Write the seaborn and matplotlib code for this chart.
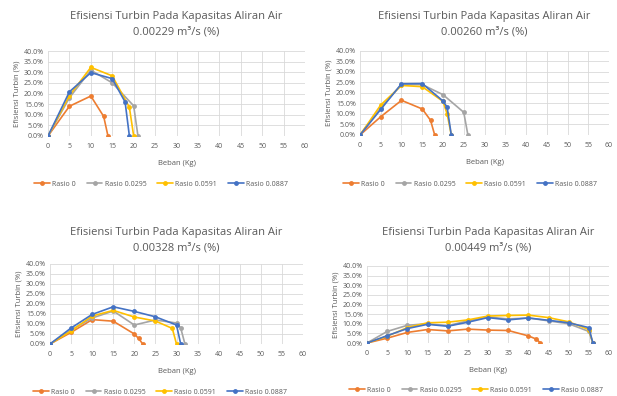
import numpy as np
import pandas as pd
import matplotlib
matplotlib.use('Agg')
import matplotlib.pyplot as plt
import seaborn as sns
from matplotlib.ticker import FuncFormatter

sns.set_style('white')
plt.rcParams['font.family'] = ['Open Sans', 'DejaVu Sans']

series_names = ['Rasio 0', 'Rasio 0.0295', 'Rasio 0.0591', 'Rasio 0.0887']
colors = ['#ED7D31', '#A5A5A5', '#FFC000', '#4472C4']
titles = ['0.00229', '0.00260', '0.00328', '0.00449']

# panel 1 - 0.00229 m3/s
p1_r0_x = [0, 5, 10, 13, 14]
p1_r0_y = [0, 14.0, 18.8, 9.2, 0]
p1_r1_x = [0, 5, 10, 15, 20, 21]
p1_r1_y = [0, 18.0, 31.0, 25.0, 14.2, 0]
p1_r2_x = [0, 5, 10, 15, 19, 20]
p1_r2_y = [0, 19.0, 32.3, 28.3, 13.5, 0]
p1_r3_x = [0, 5, 10, 15, 18, 19]
p1_r3_y = [0, 20.8, 29.8, 27.0, 16.0, 0]

# panel 2 - 0.00260 m3/s
p2_r0_x = [0, 5, 10, 15, 17, 18]
p2_r0_y = [0, 8.7, 16.5, 12.4, 7.0, 0]
p2_r1_x = [0, 5, 10, 15, 20, 25, 26]
p2_r1_y = [0, 13.0, 24.0, 24.0, 19.2, 10.8, 0]
p2_r2_x = [0, 5, 10, 15, 20, 21, 22]
p2_r2_y = [0, 14.3, 23.6, 23.0, 16.0, 10.0, 0]
p2_r3_x = [0, 5, 10, 15, 20, 21, 22]
p2_r3_y = [0, 12.2, 24.4, 24.5, 16.2, 13.2, 0]

# panel 3 - 0.00328 m3/s
p3_r0_x = [0, 5, 10, 15, 20, 21, 22]
p3_r0_y = [0, 5.8, 12.2, 11.4, 5.0, 2.8, 0]
p3_r1_x = [0, 5, 10, 15, 20, 25, 30, 31, 32]
p3_r1_y = [0, 7.0, 13.0, 16.5, 9.5, 12.0, 10.5, 8.0, 0]
p3_r2_x = [0, 5, 10, 15, 20, 25, 29, 30]
p3_r2_y = [0, 6.5, 14.0, 16.8, 13.5, 11.5, 7.8, 0]
p3_r3_x = [0, 5, 10, 15, 20, 25, 30, 31]
p3_r3_y = [0, 8.0, 14.8, 18.6, 16.3, 13.6, 9.5, 0]

# panel 4 - 0.00449 m3/s
p4_r0_x = [0, 5, 10, 15, 20, 25, 30, 35, 40, 42, 43]
p4_r0_y = [0, 2.5, 5.5, 7.0, 6.3, 7.2, 6.7, 6.5, 3.7, 2.0, 0]
p4_r1_x = [0, 5, 10, 15, 20, 25, 30, 35, 40, 45, 50, 55, 56]
p4_r1_y = [0, 6.0, 9.2, 10.0, 9.0, 11.5, 13.5, 12.5, 13.0, 11.5, 10.0, 6.0, 0]
p4_r2_x = [0, 5, 10, 15, 20, 25, 30, 35, 40, 45, 50, 55, 56]
p4_r2_y = [0, 3.5, 8.0, 10.5, 10.8, 12.0, 14.0, 14.3, 14.5, 13.2, 11.0, 7.0, 0]
p4_r3_x = [0, 5, 10, 15, 20, 25, 30, 35, 40, 45, 50, 55, 56]
p4_r3_y = [0, 3.8, 7.5, 9.7, 8.7, 10.8, 13.2, 12.0, 13.0, 11.8, 10.5, 8.0, 0]

panels = [
    [(p1_r0_x, p1_r0_y), (p1_r1_x, p1_r1_y), (p1_r2_x, p1_r2_y), (p1_r3_x, p1_r3_y)],
    [(p2_r0_x, p2_r0_y), (p2_r1_x, p2_r1_y), (p2_r2_x, p2_r2_y), (p2_r3_x, p2_r3_y)],
    [(p3_r0_x, p3_r0_y), (p3_r1_x, p3_r1_y), (p3_r2_x, p3_r2_y), (p3_r3_x, p3_r3_y)],
    [(p4_r0_x, p4_r0_y), (p4_r1_x, p4_r1_y), (p4_r2_x, p4_r2_y), (p4_r3_x, p4_r3_y)],
]

W, H = 617, 396
# plot areas in pixels: left, top, right, bottom
boxes = [(48, 51, 305, 136), (360, 51, 609, 135), (50, 264, 303, 344), (367, 266, 609, 343)]
title_y = [24, 24, 240, 240]
legend_x = [161, 470, 160, 476]
legend_y = [184, 184, 392, 390]
txt = '#595959'

fig = plt.figure(figsize=(W / 100, H / 100), dpi=100)

for i, (l, t, r, b) in enumerate(boxes):
    ax = fig.add_axes([l / W, 1 - b / H, (r - l) / W, (b - t) / H])
    for k, (xs, ys) in enumerate(panels[i]):
        df = pd.DataFrame({'x': xs, 'y': ys})
        sns.lineplot(data=df, x='x', y='y', ax=ax, color=colors[k], marker='o',
                     markersize=3.5, markeredgewidth=0, linewidth=1.2,
                     label=series_names[k], sort=False)
    ax.set_xlim(0, 60)
    ax.set_ylim(0, 40)
    ax.set_xticks(np.arange(0, 61, 5))
    ax.set_yticks(np.arange(0, 41, 5))
    ax.yaxis.set_major_formatter(FuncFormatter(lambda v, p: f'{v:.1f}%'))
    ax.grid(True, color='#D9D9D9', linewidth=0.6)
    ax.set_axisbelow(True)
    for s in ax.spines.values():
        s.set_visible(False)
    ax.tick_params(axis='both', labelsize=5, colors=txt, length=0)
    ax.tick_params(axis='x', pad=5)
    ax.tick_params(axis='y', pad=3)
    ax.set_xlabel('Beban (Kg)', fontsize=5.5, color=txt, labelpad=7)
    ax.set_ylabel('Efisiensi Turbin (%)', fontsize=5.5, color=txt, labelpad=2)
    ax.get_legend().remove()
    cx = (l + r) / 2
    fig.text(cx / W, 1 - title_y[i] / H,
             'Efisiensi Turbin Pada Kapasitas Aliran Air\n' + titles[i] + ' m³/s (%)',
             ha='center', va='center', fontsize=8, color=txt, linespacing=1.5)
    handles, labels = ax.get_legend_handles_labels()
    leg = fig.legend(handles, labels, loc='center', ncol=4, frameon=False,
                     bbox_to_anchor=(legend_x[i] / W, 1 - legend_y[i] / H), fontsize=5,
                     handlelength=2.3, columnspacing=1.6, handletextpad=0.3,
                     borderpad=0.2)
    for tx in leg.get_texts():
        tx.set_color(txt)

fig.savefig('out.png', dpi=100)
